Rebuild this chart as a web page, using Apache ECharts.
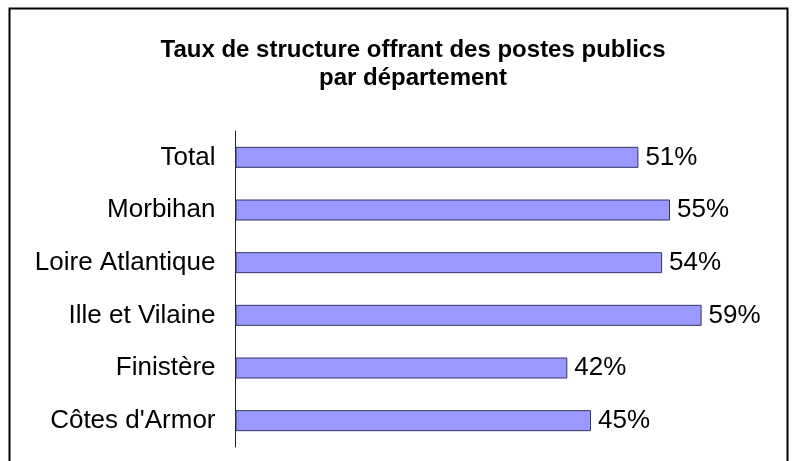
<!DOCTYPE html>
<html>
<head>
<meta charset="utf-8">
<script src="https://cdn.jsdelivr.net/npm/echarts@6/dist/echarts.min.js"></script>
<style>
  html, body { margin: 0; padding: 0; background: #fff; }
  #chart { width: 800px; height: 461px; }
</style>
</head>
<body>
<div id="chart"></div>
<script>
// departements, top to bottom
const departements = ['Total', 'Morbihan', 'Loire Atlantique', 'Ille et Vilaine', 'Finistère', "Côtes d'Armor"]
const taux = [51, 55, 54, 59, 42, 45]

const myChart = echarts.init(document.getElementById('chart'))
const option = {
    animation: false,
    backgroundColor: '#fff',
    textStyle: { fontFamily: 'Liberation Sans, Arial, sans-serif' },
    title: {
        text: 'Taux de structure offrant des postes publics\npar département',
        left: 408,
        top: 31,
        textAlign: 'center',
        textStyle: { fontSize: 24, fontWeight: 'bold', color: '#000', lineHeight: 28, fontFamily: 'Liberation Sans, Arial, sans-serif' }
    },
    graphic: [{
        type: 'rect',
        shape: { x: 9.5, y: 8.5, width: 778, height: 470 },
        style: { fill: null, stroke: '#000', lineWidth: 2 },
        silent: true
    }],
    grid: { left: 235.5, top: 131, width: 474, height: 316 },
    xAxis: {
        type: 'value',
        min: 0,
        max: 60,
        show: false
    },
    yAxis: {
        type: 'category',
        inverse: true,
        data: departements,
        axisLine: { show: true, lineStyle: { color: '#222', width: 1 } },
        axisTick: { show: false },
        axisLabel: { fontSize: 26, color: '#000', margin: 20 },
        splitLine: { show: false }
    },
    series: [{
        type: 'bar',
        data: taux,
        barWidth: 21,
        itemStyle: { color: '#9999ff', borderColor: '#333366', borderWidth: 1 },
        label: {
            show: true,
            position: 'right',
            distance: 7,
            formatter: '{c}%',
            fontSize: 26,
            color: '#000'
        }
    }]
}
option && myChart.setOption(option)
</script>
</body>
</html>
